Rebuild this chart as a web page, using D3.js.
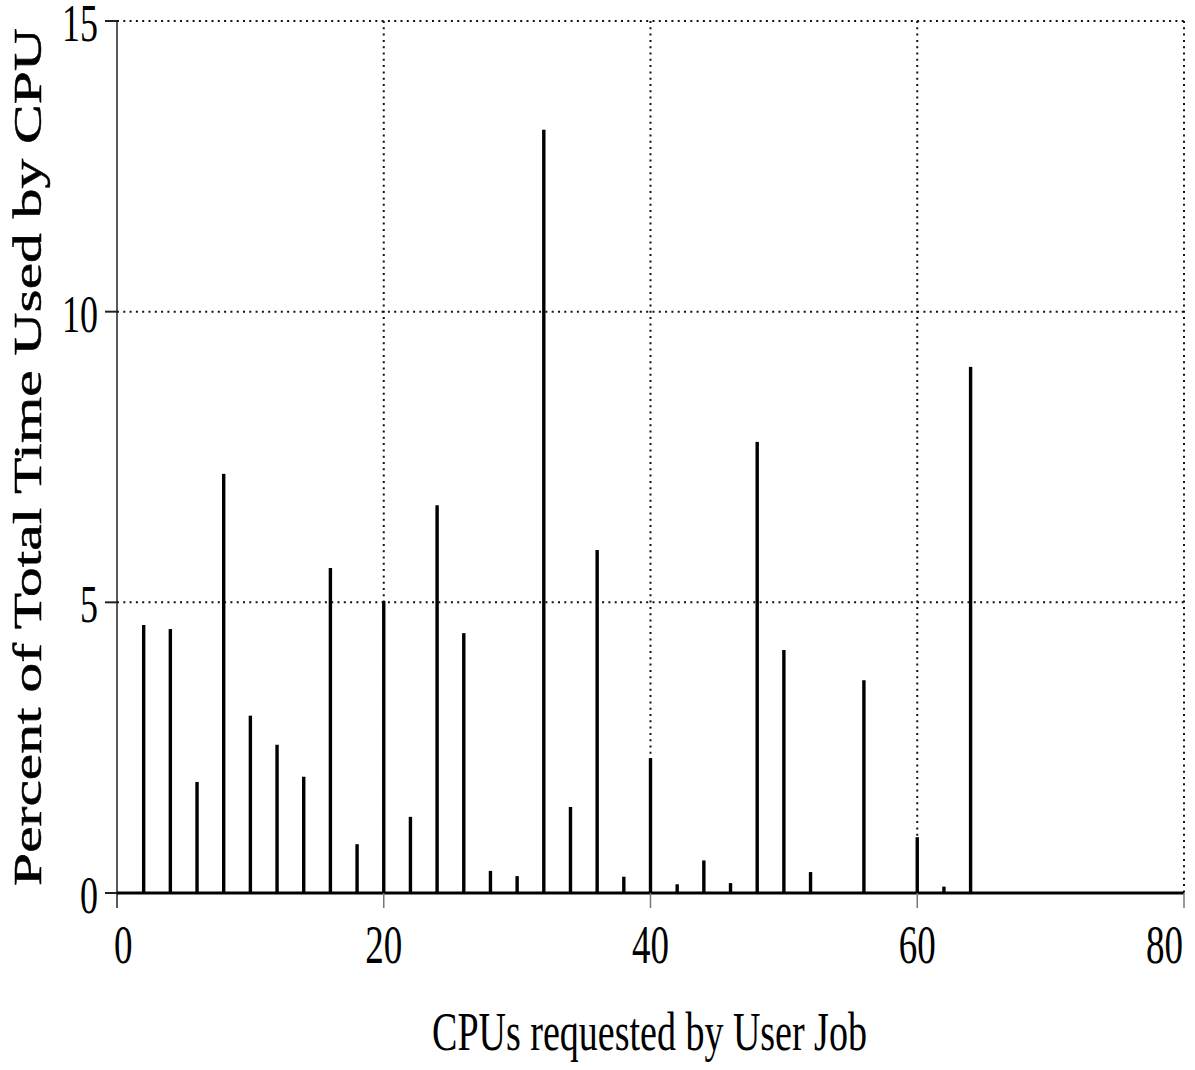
<!DOCTYPE html>
<html>
<head>
<meta charset="utf-8">
<script src="https://cdn.jsdelivr.net/npm/d3@7/dist/d3.min.js"></script>
<style>
  html, body { margin: 0; padding: 0; background: #fff; }
  text { font-family: "Liberation Serif", "Times New Roman", serif; fill: #000; }
</style>
</head>
<body>
<svg id="chart" width="1195" height="1070"></svg>
<script>
// Data
const cpus = [2, 4, 6, 8, 10, 12, 14, 16, 18, 20, 22, 24, 26, 28, 30, 32,
              34, 36, 38, 40, 42, 44, 46, 48, 50, 52, 54, 56, 58, 60, 62, 64];
const percents = [4.61, 4.54, 1.91, 7.21, 3.05, 2.55, 2.0, 5.59, 0.84, 5.02, 1.31, 6.67, 4.47, 0.38, 0.29, 13.13,
                  1.48, 5.90, 0.28, 2.32, 0.15, 0.56, 0.17, 7.76, 4.18, 0.36, 0, 3.66, 0, 0.96, 0.11, 9.05];
const xTicks = [0, 20, 40, 60, 80];
const yTicks = [0, 5, 10, 15];
const xLabel = "CPUs requested by User Job";
const yLabel = "Percent of Total Time Used by CPU";

(function () {
const svg = d3.select("#chart");
const mLeft = 117, mRight = 1184, mTop = 21, mBottom = 893;
const stretch = 1.47;

const x = d3.scaleLinear().domain([0, 80]).range([mLeft, mRight]);
const y = d3.scaleLinear().domain([0, 15]).range([mBottom, mTop]);

// dotted grid
const grid = svg.append("g")
  .attr("stroke", "#111").attr("stroke-width", 2).attr("stroke-dasharray", "2 4.3");
grid.selectAll("line.h").data(yTicks.filter(d => d > 0)).join("line")
  .attr("x1", mLeft).attr("x2", mRight).attr("y1", d => y(d)).attr("y2", d => y(d));
grid.selectAll("line.v").data(xTicks.filter(d => d > 0)).join("line")
  .attr("y1", mTop).attr("y2", mBottom).attr("x1", d => x(d)).attr("x2", d => x(d));

// spikes
svg.append("g").selectAll("rect").data(cpus.map((c, i) => ({c, v: percents[i]})).filter(d => d.v > 0))
  .join("rect")
  .attr("x", d => x(d.c) - 1.7)
  .attr("width", 3.4)
  .attr("y", d => y(d.v))
  .attr("height", d => y(0) - y(d.v))
  .attr("fill", "#000");

// y axis line
svg.append("line").attr("x1", mLeft).attr("x2", mLeft).attr("y1", mTop).attr("y2", mBottom + 15)
  .attr("stroke", "#222").attr("stroke-width", 1.5);
// y ticks
svg.append("g").selectAll("line").data(yTicks).join("line")
  .attr("x1", mLeft - 12).attr("x2", mLeft).attr("y1", d => y(d)).attr("y2", d => y(d))
  .attr("stroke", "#222").attr("stroke-width", 2);
// x axis line
svg.append("line").attr("x1", mLeft).attr("x2", mRight).attr("y1", mBottom).attr("y2", mBottom)
  .attr("stroke", "#000").attr("stroke-width", 3);
// x ticks
svg.append("g").selectAll("line").data(xTicks.filter(d => d > 0)).join("line")
  .attr("x1", d => x(d)).attr("x2", d => x(d)).attr("y1", mBottom).attr("y2", mBottom + 15)
  .attr("stroke", "#777").attr("stroke-width", 1.5);

// y tick labels
svg.append("g").selectAll("text").data(yTicks).join("text")
  .attr("transform", d => `translate(${mLeft - 19},${y(d) + 20}) scale(1,${stretch})`)
  .attr("text-anchor", "end")
  .attr("font-size", 36)
  .text(d => d);

// x tick labels (end labels kept inside the page)
const last = xTicks.length - 1;
svg.append("g").selectAll("text").data(xTicks).join("text")
  .attr("transform", (d, i) => `translate(${i === 0 ? x(d) - 3 : (i === last ? x(d) - 1 : x(d))},${mBottom + 70}) scale(1,${stretch})`)
  .attr("text-anchor", (d, i) => i === 0 ? "start" : (i === last ? "end" : "middle"))
  .attr("font-size", 37)
  .text(d => d);

// x label
svg.append("text")
  .attr("transform", `translate(${(mLeft + mRight) / 2 - 1},1050) scale(1,${stretch})`)
  .attr("text-anchor", "middle")
  .attr("font-size", 38)
  .text(xLabel);

// y label
svg.append("text")
  .attr("transform", `translate(41,${(mTop + mBottom) / 2}) scale(1,${stretch}) rotate(-90)`)
  .attr("text-anchor", "middle")
  .attr("font-size", 40.5)
  .attr("stroke", "#000").attr("stroke-width", 0.5)
  .text(yLabel);
})();
</script>
</body>
</html>
